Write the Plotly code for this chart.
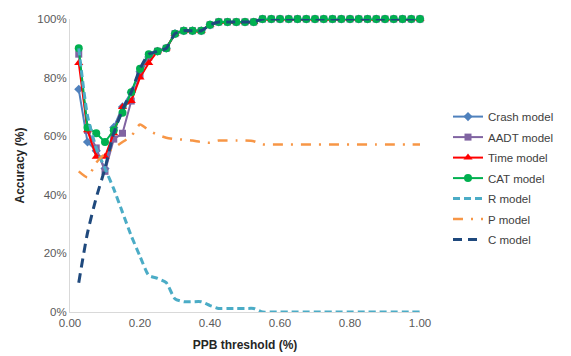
import plotly.graph_objects as go

thresholds = [round(0.025 * i, 3) for i in range(1, 41)]

tail_conv = [95, 96, 96, 96, 98, 99, 99, 99, 99, 99] + [100] * 19

crash = [76, 58, 55, 49, 63, 70, 75, 82, 87, 89, 90] + tail_conv
aadt = [88, 62, 56, 48, 59, 61, 72, 81, 87, 89, 90] + tail_conv
time_m = [85, 62, 53, 53, 61, 70, 72, 80, 85, 89, 90] + tail_conv
cat = [90, 63, 61, 58, 62, 68, 75, 83, 88, 89, 90] + tail_conv
r_model = [90, 67, 56, 49, 42, 34, 26, 19, 12.5, 11.5, 10, 4.5, 3.5, 3.5, 3.5, 2.2,
           1.2, 1.2, 1.2, 1.2, 1.2] + [0] * 19
p_model = [48, 46, 51, 54, 56, 58, 60, 64, 62, 60.5, 59.5, 59, 58.8, 58.5, 58, 57.8,
           58.5, 58.5, 58.5, 58.5, 58.3] + [57.2] * 19
c_model = [10, 27, 39, 49, 61, 69, 75, 83, 88, 89, 90] + tail_conv

x_ticks = [0, 0.2, 0.4, 0.6, 0.8, 1.0]
x_labels = ["0.00", "0.20", "0.40", "0.60", "0.80", "1.00"]
y_ticks = [0, 20, 40, 60, 80, 100]
y_labels = ["0%", "20%", "40%", "60%", "80%", "100%"]

fig = go.Figure()

def add_marker_series(name, y, color, symbol, size):
    fig.add_trace(go.Scatter(
        x=thresholds, y=y, name=name, mode="lines+markers",
        line=dict(color=color, width=2),
        marker=dict(symbol=symbol, size=size, color=color),
        cliponaxis=False, legendgroup=name,
    ))

add_marker_series("Crash model", crash, "#4F81BD", "diamond", 7)
add_marker_series("AADT model", aadt, "#8064A2", "square", 7)
add_marker_series("Time model", time_m, "#FF0000", "triangle-up", 8)
add_marker_series("CAT model", cat, "#00B050", "circle", 8)

fig.add_trace(go.Scatter(
    x=thresholds, y=r_model, name="R model", mode="lines",
    line=dict(color="#4BACC6", width=3, dash="7px,4px", shape="spline", smoothing=0.6),
    cliponaxis=False, legendgroup="R",
))
fig.add_trace(go.Scatter(
    x=thresholds, y=p_model, name="P model", mode="lines",
    line=dict(color="#F79646", width=2.5, dash="10px,8px,2px,8px", shape="spline", smoothing=0.6),
    cliponaxis=False, legendgroup="P",
))
fig.add_trace(go.Scatter(
    x=thresholds, y=c_model, name="C model", mode="lines",
    line=dict(color="#1F497D", width=3, dash="9px,6px", shape="spline", smoothing=0.6),
    cliponaxis=False, legendgroup="C",
))

fig.update_layout(
    width=571, height=356,
    margin=dict(l=70, r=141, t=19, b=44),
    paper_bgcolor="white", plot_bgcolor="white",
    font=dict(family="Liberation Sans, Arial, sans-serif", size=11.5, color="#595959"),
    showlegend=True,
    legend=dict(
        x=1.08, y=0.457, xanchor="left", yanchor="middle",
        font=dict(size=11.5, color="#404040"),
        tracegroupgap=1.5, bgcolor="rgba(0,0,0,0)",
    ),
    xaxis=dict(
        range=[0, 1], tickmode="array", tickvals=x_ticks, ticktext=x_labels,
        showgrid=False, zeroline=False, showline=True, linecolor="#D9D9D9", linewidth=1,
        ticks="", automargin=False,
        title=dict(text="<b>PPB threshold (%)</b>", font=dict(size=12, color="#262626"), standoff=12),
    ),
    yaxis=dict(
        range=[0, 100], tickmode="array", tickvals=y_ticks, ticktext=y_labels,
        showgrid=False, zeroline=False, showline=True, linecolor="#D9D9D9", linewidth=1,
        ticks="", automargin=False,
        title=dict(text="<b>Accuracy (%)</b>", font=dict(size=12, color="#262626"), standoff=10),
    ),
)

fig.write_html("out.html")
